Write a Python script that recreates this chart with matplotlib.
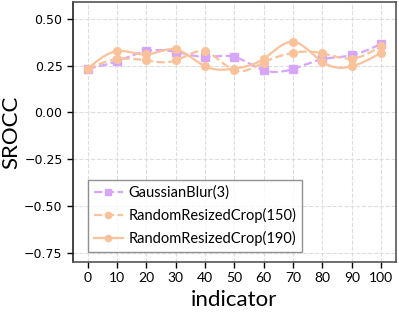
import numpy as np
import matplotlib
matplotlib.use("Agg")
import matplotlib.pyplot as plt

plt.rcParams['font.family'] = ['Lato', 'DejaVu Sans']

x = [0, 10, 20, 30, 40, 50, 60, 70, 80, 90, 100]
gaussian_blur_3 = [0.234, 0.273, 0.327, 0.323, 0.296, 0.296, 0.225, 0.232, 0.284, 0.305, 0.366]
rrc_150 = [0.234, 0.284, 0.277, 0.277, 0.325, 0.225, 0.266, 0.318, 0.316, 0.287, 0.354]
rrc_190 = [0.234, 0.327, 0.309, 0.336, 0.246, 0.234, 0.286, 0.377, 0.269, 0.246, 0.318]
labels = ['GaussianBlur(3)', 'RandomResizedCrop(150)', 'RandomResizedCrop(190)']
yticks = [0.50, 0.25, 0.00, -0.25, -0.50, -0.75]
xticks = x


def natural_spline(xs, ys, n=300):
    xs = np.asarray(xs, float); ys = np.asarray(ys, float)
    m = len(xs)
    h = np.diff(xs)
    A = np.zeros((m, m)); b = np.zeros(m)
    A[0, 0] = 1; A[-1, -1] = 1
    for i in range(1, m - 1):
        A[i, i - 1] = h[i - 1]; A[i, i] = 2 * (h[i - 1] + h[i]); A[i, i + 1] = h[i]
        b[i] = 3 * ((ys[i + 1] - ys[i]) / h[i] - (ys[i] - ys[i - 1]) / h[i - 1])
    c = np.linalg.solve(A, b)
    bb = (np.diff(ys) / h) - h * (2 * c[:-1] + c[1:]) / 3
    d = np.diff(c) / (3 * h)
    xx = np.linspace(xs[0], xs[-1], n)
    idx = np.clip(np.searchsorted(xs, xx) - 1, 0, m - 2)
    dx = xx - xs[idx]
    yy = ys[idx] + bb[idx] * dx + c[idx] * dx ** 2 + d[idx] * dx ** 3
    return xx, yy


purple = '#d6a6fb'
orange = '#fac29b'

fig = plt.figure(figsize=(3.99, 3.15), dpi=100)
ax = fig.add_axes([0.183, 0.168, 0.809, 0.826])

series = [(gaussian_blur_3, purple, '--', 's'), (rrc_150, orange, '--', 'o'), (rrc_190, orange, '-', 'o')]
for ys, col, ls, mk in series:
    xx, yy = natural_spline(x, ys)
    ax.plot(xx, yy, color=col, ls=ls, lw=1.6)
    ax.plot(x, ys, color=col, ls='none', marker=mk, ms=6 if mk == 's' else 5.5)

handles = []
for (ys, col, ls, mk), lab in zip(series, labels):
    h, = ax.plot([], [], color=col, ls=ls, marker=mk, lw=1.6, ms=5 if mk == 's' else 4.5, label=lab)
    handles.append(h)
leg = ax.legend(handles=handles, loc='lower left', bbox_to_anchor=(0.046, 0.038), borderaxespad=0,
                fontsize=10.5, frameon=True, fancybox=False, edgecolor='#777777', handlelength=2.0,
                borderpad=0.4, labelspacing=0.55, handletextpad=0.4)
leg.get_frame().set_linewidth(1.0)

ax.set_xlim(-5, 105)
ax.set_ylim(-0.8, 0.59)
ax.set_xticks(xticks)
ax.set_yticks(yticks)
ax.set_yticklabels([f'{v:.2f}'.replace('-', '\u2212') for v in yticks], family='DejaVu Sans')
ax.tick_params(axis='y', labelsize=9, length=4, width=1)
ax.tick_params(axis='x', labelsize=10, length=4, width=1)
ax.grid(True, ls='--', color='#dddddd', lw=0.8)
ax.set_axisbelow(True)
for s in ax.spines.values():
    s.set_color('#555555'); s.set_linewidth(1.2)
ax.spines['left'].set_color('#222222')
ax.set_xlabel('indicator', fontsize=16)
ax.set_ylabel('SROCC', fontsize=16, va='center', ha='center')
ax.yaxis.set_label_coords(-0.19, 0.5)

fig.savefig('out.png', dpi=100)
